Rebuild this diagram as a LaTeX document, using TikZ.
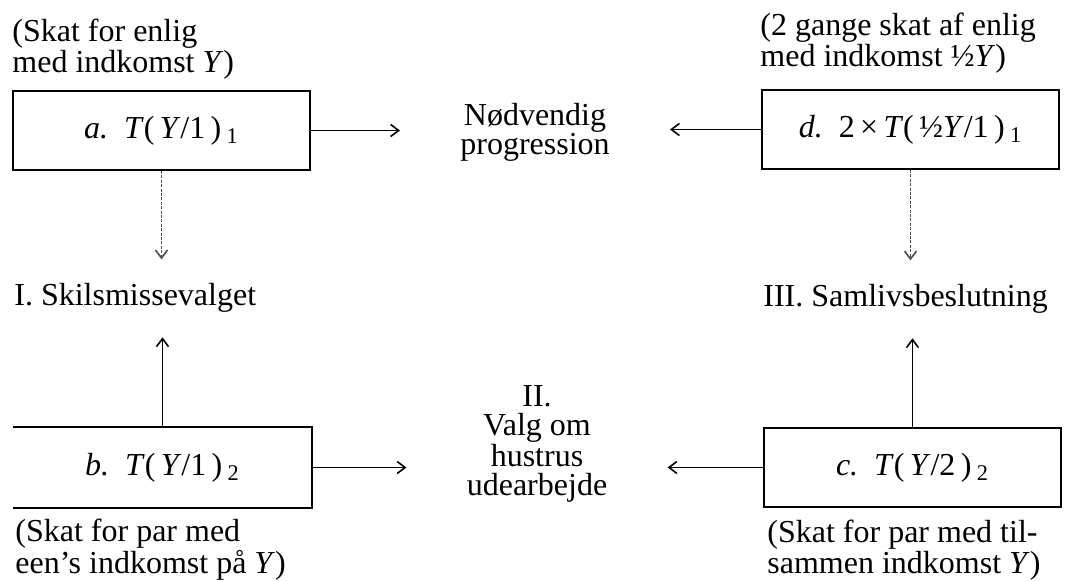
\documentclass[tikz,border=0pt]{standalone}
\usepackage{fontspec}
\setmainfont{Liberation Serif}
\usetikzlibrary{arrows.meta}
\begin{document}
\begin{tikzpicture}[x=0.5pt,y=-0.5pt,
  every node/.style={font=\fontsize{16}{14.5}\selectfont, inner sep=0pt},
  box/.style={minimum width=148.5pt, minimum height=39.5pt, line width=1pt},
  boxline/.style={line width=1pt},
  arr/.style={-{Straight Barb[length=4pt,width=6pt,line width=0.8pt]}, line width=0.6pt},
  faint/.style={dash pattern=on 1.5pt off 0.7pt, draw=black!70},
  hgap/.style={shorten >=30pt},
  vgap/.style={shorten >=12pt}]
\useasboundingbox (0,0) rectangle (1066,581);

% boxes
\node[box,draw] (a) at (161.5,130.5) {\textit{a.}\enspace\textit{T}(\,\textit{Y}/1\,)\,\textsubscript{1}};
\node[box,draw] (d) at (910.5,129.5) {\textit{d.}\enspace 2\,×\,\textit{T}(\,½\textit{Y}/1\,)\,\textsubscript{1}};
\node[box] (b) at (162.5,467.5) {\textit{b.}\enspace\textit{T}(\,\textit{Y}/1\,)\,\textsubscript{2}};
\draw[boxline] (b.north west) -- (b.north east) -- (b.south east) -- (b.south west);
\node[box,draw] (c) at (912.5,467.5) {\textit{c.}\enspace\textit{T}(\,\textit{Y}/2\,)\,\textsubscript{2}};

% central labels
\node[align=center] (N) at (535,132) {Nødvendig\\progression};
\node[align=center] (II) at (537,444) {II.\\Valg om\\hustrus\\udearbejde};
\node[anchor=base west] (I) at (14,306) {I. Skilsmissevalget};
\node[anchor=base west] (III) at (763,307) {III. Samlivsbeslutning};

% annotations
\node[anchor=west,align=left] (na) at (12,49.5) {(Skat for enlig\\med indkomst \textit{Y})};
\node[anchor=west,align=left] (nd) at (760,43) {(2 gange skat af enlig\\med indkomst ½\textit{Y})};
\node[anchor=west,align=left] (nb) at (15,550) {(Skat for par med\\een’s indkomst på \textit{Y})};
\node[anchor=west,align=left] (nc) at (767,550.5) {(Skat for par med til-\\sammen indkomst \textit{Y})};

% connectors
\draw[arr,hgap] (a.east) -- (a.east -| N.west);
\draw[arr,hgap] (d.west) -- (d.west -| N.east);
\draw[arr,hgap] (b.east) -- (b.east -| II.west);
\draw[arr,hgap] (c.west) -- (c.west -| II.east);
\draw[arr,faint,vgap] (a.south) -- (a.south |- I.north);
\draw[arr,faint,vgap] (d.south) -- (d.south |- III.north);
\draw[arr,vgap] (b.north) -- (b.north |- I.south);
\draw[arr,vgap] (c.north) -- (c.north |- III.south);
\end{tikzpicture}
\end{document}
